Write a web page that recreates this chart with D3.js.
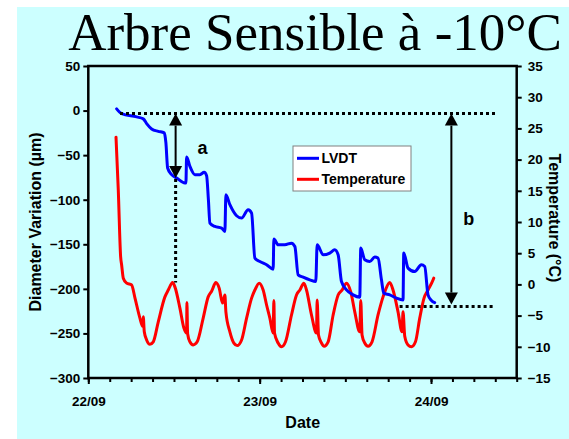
<!DOCTYPE html>
<html><head><meta charset="utf-8">
<script src="https://cdn.jsdelivr.net/npm/d3@7"></script>
<style>html,body{margin:0;padding:0;background:#fff;} svg{display:block;}</style>
</head><body>
<script>
// ---- data ----
const titleText = "Arbre Sensible à -10°C";
const seriesNames = ["LVDT", "Temperature"];
// hours since 22/09 00:00
const lvdtHours = [3.97,4.67,6.77,7.70,8.17,8.87,9.80,10.64,10.87,11.11,11.67,12.37,13.53,13.67,13.77,14.23,14.93,15.63,16.23,16.57,16.82,17.03,17.73,18.67,19.13,19.27,19.83,20.77,21.47,22.39,22.87,23.33,24.03,24.97,25.89,25.99,26.59,27.53,28.46,28.93,29.39,30.09,31.02,31.86,32.05,32.89,33.82,34.52,34.99,35.46,36.16,37.08,38.02,38.16,38.72,39.42,40.12,40.58,41.06,41.38,42.22,43.16,44.08,44.18,44.78,45.72,46.65,47.12,47.58,48.06,48.52];
// diameter variation (µm)
const lvdtValues = [1.9,-3.4,-7.1,-9.3,-14.6,-20.6,-23.3,-25.1,-36.3,-64.4,-71.9,-75.6,-81.2,-81.2,-52.0,-62.6,-71.9,-71.9,-69.3,-73.0,-100,-126.2,-130,-131.8,-135.6,-94.4,-105.6,-118,-120.6,-111.2,-115,-165.5,-169.3,-173,-177.9,-144.2,-150.6,-150.6,-148.7,-152.5,-184.3,-186.9,-189.9,-191.8,-150.6,-161.8,-159.9,-156.2,-161.8,-191.8,-201.1,-206.7,-209.3,-154.3,-167.4,-169.3,-164.4,-165.5,-189.9,-204.8,-206.7,-210.4,-212.4,-159.9,-176.7,-180.6,-173,-174.9,-206.7,-213.1,-215.4];
const tempHours = [3.88,4.20,4.53,4.67,4.90,5.37,6.07,6.54,7.23,7.61,7.70,7.84,8.17,8.63,9.10,9.80,10.73,11.20,11.81,12.13,12.83,13.39,13.77,13.81,13.91,14.23,14.69,15.25,16.09,16.79,17.27,17.87,18.33,18.81,19.13,19.27,19.83,20.39,20.85,21.47,22.17,22.87,23.33,23.93,24.49,24.97,25.43,25.89,25.99,26.08,26.59,27.06,27.62,28.46,29.16,29.63,30.19,30.56,31.26,31.96,32.05,32.24,32.66,33.03,33.59,34.29,34.99,35.54,36.16,36.76,37.32,38.02,38.16,38.34,38.72,39.18,39.74,40.58,41.28,41.62,42.22,42.68,43.38,43.94,44.08,44.32,44.78,45.26,45.82,46.42,47.02,47.58,48.28,48.38];
// temperature (°C)
const tempValues = [23.6,15.1,4.4,3.1,1.0,0.2,-0.1,-2.2,-5.4,-6.7,-5.2,-7.6,-8.9,-9.6,-9.2,-6.0,-2.0,-0.9,0.3,-0.4,-3.8,-7.0,-7.8,-2.9,-7.9,-9.2,-9.7,-9.2,-5.4,-2.0,-1.1,0.3,-0.6,-3.0,-1.7,-4.4,-7.6,-9.4,-9.8,-8.9,-5.4,-2.2,-0.9,0.2,-0.9,-3.3,-5.4,-7.8,-2.6,-7.8,-9.4,-10.0,-9.2,-4.9,-1.7,-0.9,0.2,-0.9,-4.9,-7.8,-2.5,-8.1,-9.4,-9.9,-9.2,-4.9,-1.7,-0.9,0.2,-1.2,-4.4,-7.6,-2.6,-8.1,-9.4,-9.9,-9.2,-4.9,-2.0,-0.9,0.3,-0.9,-4.4,-7.6,-4.4,-8.3,-9.7,-10.0,-9.2,-5.4,-2.2,-0.9,0.7,1.0];
const leftTicks = [-300,-250,-200,-150,-100,-50,0,50];
const rightTicks = [-15,-10,-5,0,5,10,15,20,25,30,35];
const dateTickHours = [0,24,48];
const dateTickLabels = ["22/09","23/09","24/09"];
const minorTickHours = d3.range(0,61,3);
// annotations: reference levels (µm) and arrows
const refTop = -3.4, refBottom = -219.9;
const refTopSpan = [4.44, 57.0], refBottomSpan = [43.6, 57.0];
const arrowA = {h:12.23, from:-3.4, to:-75.6, peakTemp:0.3, label:"a", lh:16.0, lv:-42};
const arrowB = {h:50.85, from:-3.4, to:-217.6, label:"b", lh:53.3, lv:-121};

// ---- drawing ----
const W=569,H=439;
const svg=d3.select("body").append("svg").attr("width",W).attr("height",H);
svg.append("rect").attr("x",0).attr("y",0).attr("width",W).attr("height",H).attr("fill","#fff");
svg.append("rect").attr("x",17).attr("y",7).attr("width",W-17).attr("height",H-7).attr("fill","#CCFFFF");

const x=d3.scaleLinear().domain([0,60]).range([88.3,516.7]);
const yL=d3.scaleLinear().domain([-300,50]).range([378,66]);
const yR=d3.scaleLinear().domain([-15,35]).range([378,66]);
const sans="Arial, 'Liberation Sans', sans-serif";

svg.append("text").attr("x",315).attr("y",50).attr("text-anchor","middle")
  .attr("font-family","'Times New Roman','Liberation Serif',serif").attr("font-size",53)
  .attr("fill","#000").text(titleText);

// frame
svg.append("rect").attr("x",x(0)).attr("y",yL(50)).attr("width",x(60)-x(0)).attr("height",yL(-300)-yL(50))
  .attr("fill","none").attr("stroke","#000").attr("stroke-width",2.5);

// left axis
const gL=svg.append("g").attr("transform",`translate(${x(0)},0)`)
  .call(d3.axisLeft(yL).tickValues(leftTicks).tickSize(5).tickPadding(3).tickFormat(d3.format("d")));
// right axis
const gR=svg.append("g").attr("transform",`translate(${x(60)},0)`)
  .call(d3.axisRight(yR).tickValues(rightTicks).tickSize(5).tickPadding(6).tickFormat(d3.format("d")));
// bottom axes
const gBm=svg.append("g").attr("transform",`translate(0,${yL(-300)})`)
  .call(d3.axisBottom(x).tickValues(minorTickHours).tickSize(4).tickFormat(""));
const gB=svg.append("g").attr("transform",`translate(0,${yL(-300)})`)
  .call(d3.axisBottom(x).tickValues(dateTickHours).tickSize(6).tickPadding(12).tickFormat((d,i)=>dateTickLabels[i]));
[gL,gR,gBm,gB].forEach(g=>{
  g.select(".domain").remove();
  g.selectAll(".tick line").attr("stroke","#000").attr("stroke-width",2);
  g.selectAll("text").attr("font-family",sans).attr("font-weight","bold").attr("font-size",13.5).attr("fill","#000");
});

// axis titles
svg.append("text").attr("transform",`translate(41,${(yL(50)+yL(-300))/2}) rotate(-90)`).attr("text-anchor","middle")
  .attr("font-family",sans).attr("font-weight","bold").attr("font-size",16).text("Diameter Variation  (µm)");
svg.append("text").attr("transform",`translate(549,${(yL(50)+yL(-300))/2 - 4}) rotate(90)`).attr("text-anchor","middle")
  .attr("font-family",sans).attr("font-weight","bold").attr("font-size",16).text("Temperature (°C)");
svg.append("text").attr("x",302.7).attr("y",428).attr("text-anchor","middle")
  .attr("font-family",sans).attr("font-weight","bold").attr("font-size",16).text("Date");

// series
const lvdt=lvdtHours.map((h,i)=>[h,lvdtValues[i]]);
const temp=tempHours.map((h,i)=>[h,tempValues[i]]);
svg.append("path").datum(temp).attr("fill","none").attr("stroke","#FF0000").attr("stroke-width",3)
  .attr("stroke-linejoin","round").attr("stroke-linecap","round")
  .attr("d",d3.line().curve(d3.curveMonotoneX).x(d=>x(d[0])).y(d=>yR(d[1])));
svg.append("path").datum(lvdt).attr("fill","none").attr("stroke","#0000FF").attr("stroke-width",3)
  .attr("stroke-linejoin","round").attr("stroke-linecap","round")
  .attr("d",d3.line().curve(d3.curveMonotoneX).x(d=>x(d[0])).y(d=>yL(d[1])));

// annotations
const dot={stroke:"#000","stroke-width":3,"stroke-dasharray":"3,3"};
function dl(x1,y1,x2,y2){const l=svg.append("line").attr("x1",x1).attr("y1",y1).attr("x2",x2).attr("y2",y2);Object.entries(dot).forEach(([k,v])=>l.attr(k,v));}
dl(x(refTopSpan[0]),yL(refTop),x(refTopSpan[1]),yL(refTop));
dl(x(refBottomSpan[0]),yL(refBottom),x(refBottomSpan[1]),yL(refBottom));
dl(x(arrowA.h),yL(arrowA.to)+1,x(arrowA.h),yR(arrowA.peakTemp));

function arrow(a){
  const xx=x(a.h), y1=yL(a.from), y2=yL(a.to), hw=6.5, hl=12;
  svg.append("line").attr("x1",xx).attr("x2",xx).attr("y1",y1+hl).attr("y2",y2-hl).attr("stroke","#000").attr("stroke-width",2);
  svg.append("path").attr("d",`M${xx},${y1} L${xx-hw},${y1+hl} L${xx+hw},${y1+hl} Z`).attr("fill","#000");
  svg.append("path").attr("d",`M${xx},${y2} L${xx-hw},${y2-hl} L${xx+hw},${y2-hl} Z`).attr("fill","#000");
  svg.append("text").attr("x",x(a.lh)).attr("y",yL(a.lv)).attr("text-anchor","middle").attr("dy","0.35em")
    .attr("font-family",sans).attr("font-weight","bold").attr("font-size",18).text(a.label);
}
arrow(arrowA); arrow(arrowB);

// legend
const lg=svg.append("g");
lg.append("rect").attr("x",293).attr("y",146).attr("width",118).attr("height",45).attr("fill","#fff").attr("stroke","#808080").attr("stroke-width",1);
const colors=["#0000FF","#FF0000"];
seriesNames.forEach((n,i)=>{
  const yy=158.3+i*21;
  lg.append("line").attr("x1",297).attr("x2",319).attr("y1",yy).attr("y2",yy).attr("stroke",colors[i]).attr("stroke-width",3);
  lg.append("text").attr("x",321.5).attr("y",yy).attr("dy","0.36em").attr("font-family",sans).attr("font-weight","bold").attr("font-size",14).text(n);
});
</script>
</body></html>
